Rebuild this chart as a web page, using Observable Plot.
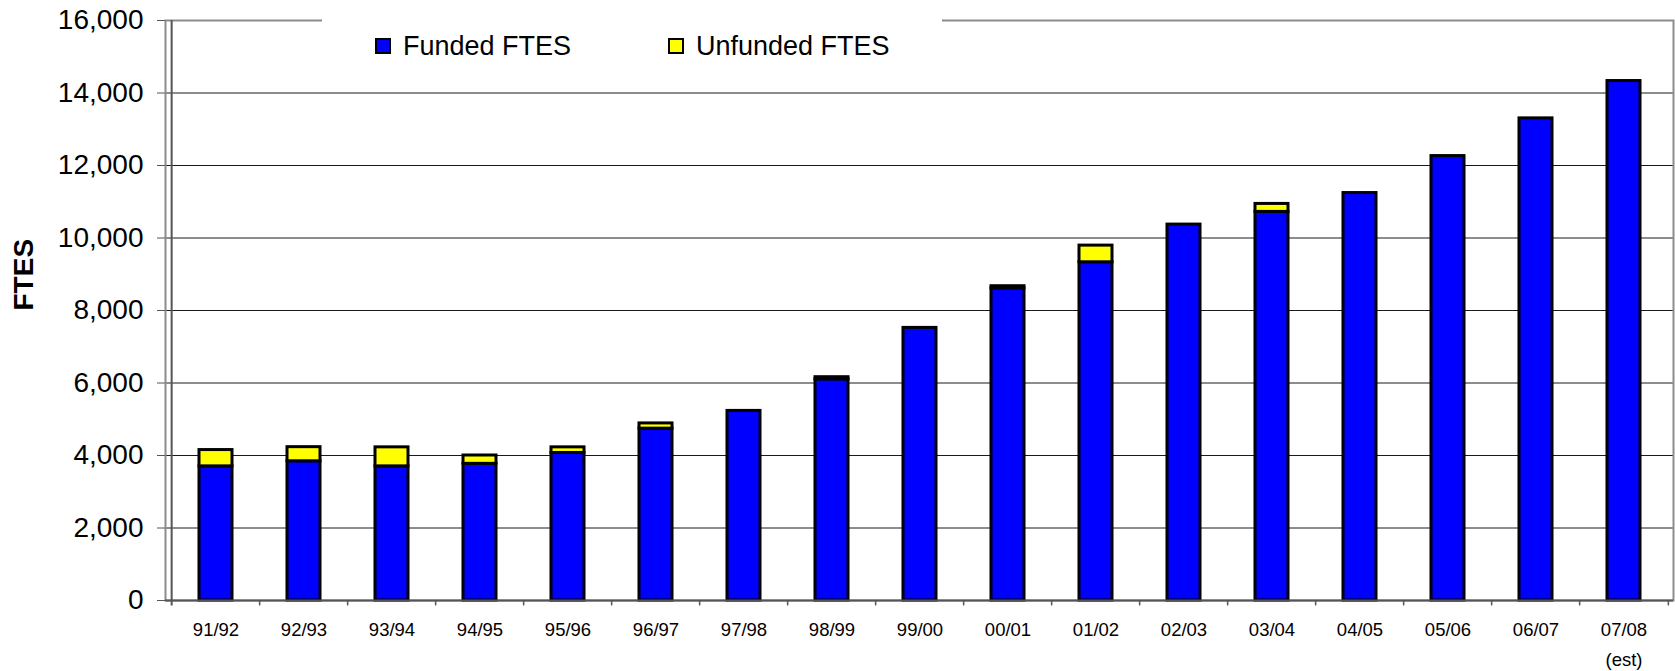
<!DOCTYPE html>
<html>
<head>
<meta charset="utf-8">
<script src="https://cdn.jsdelivr.net/npm/d3@7"></script>
<script src="https://cdn.jsdelivr.net/npm/@observablehq/plot@0.6"></script>
<style>
  html, body { margin: 0; padding: 0; background: #fff; }
  #wrap { position: relative; width: 1675px; height: 671px; font-family: "Liberation Sans", Arial, sans-serif; }
  #legend { position: absolute; left: 322px; top: 8px; width: 620px; height: 62px; background: #fff; }
  .sw { position: absolute; width: 16px; height: 16px; box-sizing: border-box; border: 2px solid #000; }
  .lt { position: absolute; font-size: 27px; line-height: 28px; color: #000; white-space: nowrap; }
</style>
</head>
<body>
<div id="wrap"></div>
<script>
// ---- data ----
const categories = ["91/92","92/93","93/94","94/95","95/96","96/97","97/98","98/99","99/00","00/01","01/02","02/03","03/04","04/05","05/06","06/07","07/08"];
const funded   = [3700, 3840, 3700, 3770, 4070, 4740, 5230, 6100, 7520, 8610, 9330, 10370, 10720, 11240, 12260, 13300, 14330];
const unfunded = [ 450,  390,  525,  230,  155,  145,    0,   60,    0,   60,  460,     0,   220,     0,     0,     0,     0];
const seriesNames = ["Funded FTES", "Unfunded FTES"];
const seriesColors = ["#0000ff", "#ffff00"];
const yTicks = [0, 2000, 4000, 6000, 8000, 10000, 12000, 14000, 16000];
const gridValues = [2000, 4000, 6000, 8000, 10000, 12000, 14000];
const yLabel = "FTES";
const estNote = [{category: "07/08", text: "(est)"}];

const data = categories.flatMap((c, i) => [
  {category: c, series: seriesNames[0], value: funded[i]},
  {category: c, series: seriesNames[1], value: unfunded[i]}
]);

const W = 1675, H = 671, ML = 165, MR = 2;
const step = (W - ML - MR) / categories.length;
const tickDown = -150; // small extension below the baseline, in data units

const chart = Plot.plot({
  width: W, height: H,
  marginLeft: ML, marginRight: MR, marginTop: 20, marginBottom: 71,
  style: {fontFamily: "'Liberation Sans', Arial, sans-serif", background: "white", overflow: "visible"},
  x: {domain: categories, paddingInner: 0.63, paddingOuter: 0.315},
  y: {domain: [0, 16000]},
  color: {domain: seriesNames, range: seriesColors},
  marks: [
    Plot.ruleY(gridValues, {stroke: "#1a1a1a", strokeWidth: 1}),
    Plot.frame({stroke: "#8c8c8c", strokeWidth: 2}),
    Plot.barY(data, {x: "category", y: "value", fill: "series", stroke: "#000", strokeWidth: 3}),
    // bottom axis line
    Plot.ruleY([0], {stroke: "#555", strokeWidth: 2}),
    // left axis line
    Plot.ruleX([categories[0]], {dx: -step / 2, y1: tickDown, y2: 16000, stroke: "#555", strokeWidth: 2}),
    // category boundary ticks
    Plot.ruleX(categories.slice(1), {dx: -step / 2, y1: tickDown, y2: 0, stroke: "#555", strokeWidth: 1.5}),
    Plot.ruleX([categories[categories.length - 1]], {dx: step / 2, y1: tickDown, y2: 0, stroke: "#555", strokeWidth: 1.5}),
    Plot.axisY({ticks: yTicks, tickSize: 8, tickPadding: 14, tickFormat: d3.format(","), fontSize: 28, stroke: "#555", label: null}),
    Plot.axisX({tickSize: 0, tickPadding: 22, fontSize: 18.5, label: null}),
    Plot.text(estNote, {x: "category", y: 0, text: "text", dy: 60, fontSize: 18.5}),
    Plot.text([yLabel], {frameAnchor: "left", dx: -141, rotate: -90, fontSize: 28, fontWeight: "bold", text: d => d})
  ]
});

const wrap = document.getElementById("wrap");
wrap.appendChild(chart);

// legend
const legend = document.createElement("div");
legend.id = "legend";
const itemOffsets = [53, 346];
seriesNames.forEach((name, i) => {
  const sw = document.createElement("div");
  sw.className = "sw";
  sw.style.left = itemOffsets[i] + "px";
  sw.style.top = "30px";
  sw.style.background = seriesColors[i];
  const lt = document.createElement("div");
  lt.className = "lt";
  lt.style.left = (itemOffsets[i] + 28) + "px";
  lt.style.top = "24px";
  lt.textContent = name;
  legend.appendChild(sw);
  legend.appendChild(lt);
});
wrap.appendChild(legend);
</script>
</body>
</html>
